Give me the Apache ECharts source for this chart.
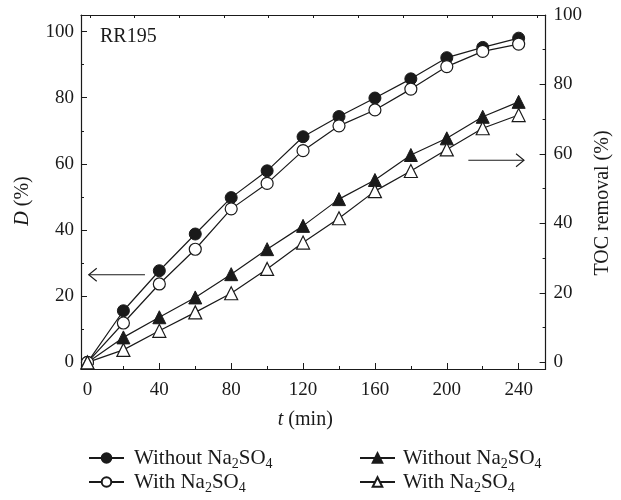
<!DOCTYPE html>
<html>
<head>
<meta charset="utf-8">
<script src="https://cdn.jsdelivr.net/npm/echarts@6/dist/echarts.min.js"></script>
<style>
    html, body { margin: 0; padding: 0; background: #fff; }
    #chart { width: 621px; height: 500px; }
</style>
</head>
<body>
<div id="chart"></div>
<script>
// time points (min)
var times = [0, 20, 40, 60, 80, 100, 120, 140, 160, 180, 200, 220, 240];
// decolorization D (%) - left axis
var dWithout = [0, 15.6, 27.7, 38.8, 49.8, 57.9, 68.2, 74.3, 79.9, 85.7, 92.1, 95.2, 98.0];
var dWith = [0, 11.9, 23.7, 34.2, 46.4, 54.1, 64.0, 71.5, 76.3, 82.6, 89.4, 94.0, 96.2];
// TOC removal (%) - right axis
var tocWithout = [0, 7.2, 13.0, 18.7, 25.4, 32.6, 39.3, 47.0, 52.5, 59.7, 64.5, 70.7, 75.0];
var tocWith = [0, 3.6, 9.1, 14.4, 19.9, 26.9, 34.5, 41.5, 49.3, 55.1, 61.3, 67.4, 71.2];

// tick labels
var xTicks = [0, 40, 80, 120, 160, 200, 240];
var xMinor = [20, 60, 100, 140, 180, 220];
var topTicks = [1.3, 26.2, 51.1, 75.9, 100.8, 125.7, 150.6, 175.5, 200.4, 225.3, 250.2];
var yTicks = [0, 20, 40, 60, 80, 100];
var yMinor = [10, 30, 50, 70, 90];

// arrows: [t, value] start -> end
var leftArrow = [[32, 26.5], [0.7, 26.5]];
var rightArrow = [[212, 58.2], [243, 58.2]];

var FONT = "'Liberation Serif', 'DejaVu Serif', serif";
var INK = '#1a1a1a';

var legendNames = {
    dWithout: 'Without', dWith: 'With', tWithout: 'Without', tWith: 'With'
};

function pairs(vals) {
    return times.map(function (t, i) { return [t, vals[i]]; });
}

var chart = echarts.init(document.getElementById('chart'));

// legend text with subscripts
var legendRich = {
    a: { fontFamily: FONT, fontSize: 21, color: INK, lineHeight: 22 },
    s: { fontFamily: FONT, fontSize: 14, color: INK, lineHeight: 22, padding: [12, 0, 0, 0] }
};
// axis names with italic symbol
var nameRich = {
    i: { fontFamily: FONT, fontSize: 20, color: INK, fontStyle: 'italic' },
    n: { fontFamily: FONT, fontSize: 20, color: INK }
};

function legendFmt(name) {
    return '{a|' + legendNames[name] + ' Na}{s|2}{a|SO}{s|4}';
}

function baseX(extra) {
    var o = {
        type: 'value', min: -3.6, max: 255,
        splitLine: { show: false },
        axisLine: { show: false, onZero: false },
        axisLabel: { show: false },
        axisTick: { show: false }
    };
    return Object.assign(o, extra);
}

function baseY(extra) {
    var o = {
        type: 'value',
        splitLine: { show: false },
        axisLine: { show: false, onZero: false },
        axisLabel: { show: false },
        axisTick: { show: false }
    };
    return Object.assign(o, extra);
}

var axisLine = { show: true, onZero: false, lineStyle: { color: INK, width: 1.2 } };
var lineStyle = { color: INK, width: 1.2 };

var option = {
    backgroundColor: '#fff',
    animation: false,
    title: {
        text: 'RR195',
        left: 100, top: 27, padding: 0,
        textStyle: { fontFamily: FONT, fontSize: 20, fontWeight: 'normal', color: INK }
    },
    grid: { left: 81, right: 68, top: 15, bottom: 131 },
    xAxis: [
        baseX({
            position: 'bottom',
            name: '{i|t}{n| (min)}',
            nameLocation: 'middle',
            nameGap: 41,
            nameTextStyle: { rich: nameRich, padding: [0, 16, 0, 0] },
            axisLine: axisLine,
            axisTick: { show: true, inside: true, length: 6, customValues: xTicks, lineStyle: { color: INK } },
            axisLabel: { show: true, customValues: xTicks, margin: 12, fontFamily: FONT, fontSize: 19, color: INK }
        }),
        baseX({
            position: 'bottom',
            axisTick: { show: true, inside: true, length: 3, customValues: xMinor, lineStyle: { color: INK } }
        }),
        baseX({
            position: 'top',
            axisLine: axisLine,
            axisTick: { show: true, inside: true, length: 3, customValues: topTicks, lineStyle: { color: INK } }
        })
    ],
    yAxis: [
        baseY({
            position: 'left', min: -2, max: 105,
            name: '{i|D}{n| (%)}',
            nameLocation: 'middle',
            nameGap: 48,
            nameTextStyle: { rich: nameRich, padding: [0, 18, 0, 0] },
            axisLine: axisLine,
            axisTick: { show: true, inside: true, length: 6, customValues: yTicks, lineStyle: { color: INK } },
            axisLabel: { show: true, customValues: yTicks, margin: 7, fontFamily: FONT, fontSize: 19, color: INK }
        }),
        baseY({
            position: 'left', min: -2, max: 105,
            axisTick: { show: true, inside: true, length: 3, customValues: yMinor, lineStyle: { color: INK } }
        }),
        baseY({
            position: 'right', min: -1.9, max: 100,
            name: 'TOC removal (%)',
            nameLocation: 'middle',
            nameGap: 46,
            nameRotate: 90,
            nameTextStyle: { fontFamily: FONT, fontSize: 20, color: INK, padding: [0, 22, 0, 0] },
            axisLine: axisLine,
            axisTick: { show: true, inside: true, length: 6, customValues: yTicks, lineStyle: { color: INK } },
            axisLabel: { show: true, customValues: yTicks, margin: 8, fontFamily: FONT, fontSize: 19, color: INK }
        }),
        baseY({
            position: 'right', min: -1.9, max: 100,
            axisTick: { show: true, inside: true, length: 3, customValues: yMinor, lineStyle: { color: INK } }
        })
    ],
    legend: [
        {
            orient: 'vertical', left: 88, top: 445, height: 55, padding: 0,
            data: ['dWithout', 'dWith'],
            itemWidth: 35, itemHeight: 12, itemGap: -2,
            formatter: legendFmt,
            textStyle: { rich: legendRich, padding: [0, 0, 0, 5] }
        },
        {
            orient: 'vertical', left: 359, top: 445, height: 55, padding: 0,
            data: ['tWithout', 'tWith'],
            itemWidth: 35, itemHeight: 12, itemGap: -2,
            formatter: legendFmt,
            textStyle: { rich: legendRich, padding: [0, 0, 0, 3] }
        }
    ],
    series: [
        {
            name: 'dWithout', type: 'line', xAxisIndex: 0, yAxisIndex: 0,
            data: pairs(dWithout), symbol: 'circle', symbolSize: 12,
            lineStyle: lineStyle,
            itemStyle: { color: INK, borderColor: INK, borderWidth: 1 }
        },
        {
            name: 'dWith', type: 'line', xAxisIndex: 0, yAxisIndex: 0,
            data: pairs(dWith), symbol: 'circle', symbolSize: 12,
            lineStyle: lineStyle,
            itemStyle: { color: '#fff', borderColor: INK, borderWidth: 1.2 }
        },
        {
            name: 'tWithout', type: 'line', xAxisIndex: 0, yAxisIndex: 2,
            data: pairs(tocWithout), symbol: 'triangle', symbolSize: 13,
            lineStyle: lineStyle,
            itemStyle: { color: INK, borderColor: INK, borderWidth: 1 }
        },
        {
            name: 'tWith', type: 'line', xAxisIndex: 0, yAxisIndex: 2,
            data: pairs(tocWith), symbol: 'triangle', symbolSize: 13,
            lineStyle: lineStyle,
            itemStyle: { color: '#fff', borderColor: INK, borderWidth: 1.2 }
        }
    ]
};

chart.setOption(option);

// arrow annotations, placed through the axes
function arrow(seg, yAxisIndex) {
    var a = chart.convertToPixel({ xAxisIndex: 0, yAxisIndex: yAxisIndex }, seg[0]);
    var b = chart.convertToPixel({ xAxisIndex: 0, yAxisIndex: yAxisIndex }, seg[1]);
    var dir = b[0] < a[0] ? 1 : -1;
    var st = { stroke: INK, lineWidth: 1.1, fill: null };
    return [
        { type: 'line', shape: { x1: a[0], y1: a[1], x2: b[0], y2: b[1] }, style: st },
        { type: 'polyline', shape: { points: [[b[0] + dir * 8, b[1] - 6.5], [b[0], b[1]], [b[0] + dir * 8, b[1] + 6.5]] }, style: st }
    ];
}

chart.setOption({
    graphic: arrow(leftArrow, 0).concat(arrow(rightArrow, 2))
});
</script>
</body>
</html>
